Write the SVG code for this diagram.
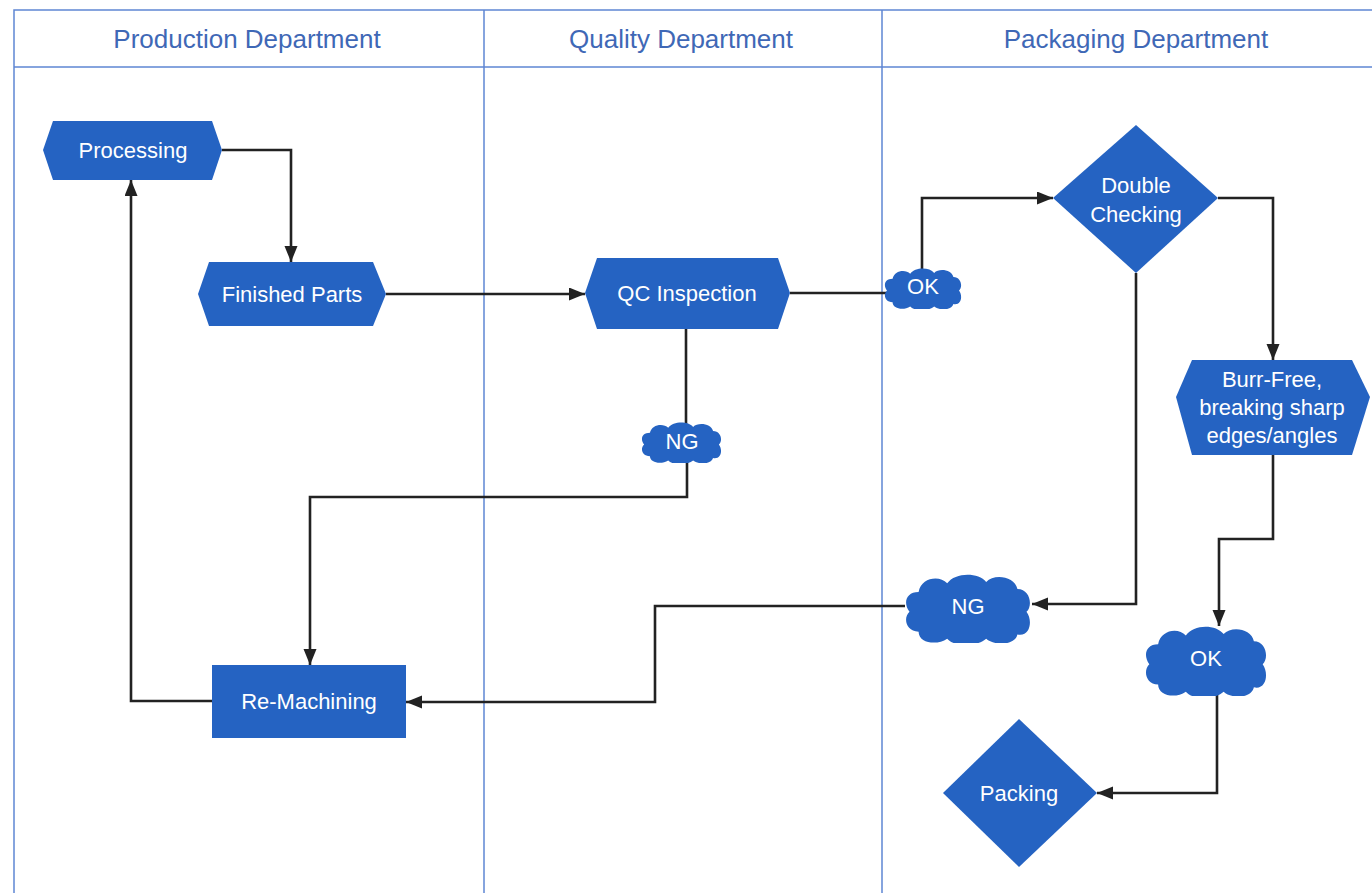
<svg xmlns="http://www.w3.org/2000/svg" width="1372" height="893" viewBox="0 0 1372 893">
<style>
.lane{fill:none;stroke:#5f86d4;stroke-width:1.5}
.hdr{font-family:"Liberation Sans",Arial,sans-serif;font-size:26px;fill:#3f68b6;text-anchor:middle}
.shape{fill:#2563c2}
.lbl{font-family:"Liberation Sans",Arial,sans-serif;font-size:22px;fill:#ffffff;text-anchor:middle}
.conn{fill:none;stroke:#222222;stroke-width:2.6}
</style>
<defs>
<marker id="arr" markerUnits="userSpaceOnUse" markerWidth="18" markerHeight="14" refX="16" refY="6.5" orient="auto">
<path d="M0,0 L16,6.5 L0,13 Z" fill="#222222"/>
</marker>
<symbol id="cloud" viewBox="0 0 100 50" preserveAspectRatio="none">
<path d="M12,14 C14,4 28,2 34,8 C40,0 58,0 64,7 C70,1 86,3 88,12 C98,12 100,24 95,28 C100,34 98,46 88,44 C86,52 70,52 64,47 C56,53 40,53 34,47 C26,52 12,50 12,42 C2,42 0,32 5,28 C0,22 2,14 12,14 Z"/>
</symbol>
</defs>
<rect width="1372" height="893" fill="#ffffff"/>
<g id="lanes">
<path class="lane" d="M14,900 V10 H1400 M14,67 H1400 M484,10 V900 M882,10 V900"/>
<text class="hdr" x="247" y="48">Production Department</text>
<text class="hdr" x="681" y="48">Quality Department</text>
<text class="hdr" x="1136" y="48">Packaging Department</text>
</g>
<g id="connectors">
<path class="conn" d="M222,150 H291 V262" marker-end="url(#arr)"/>
<path class="conn" d="M386,294 H585" marker-end="url(#arr)"/>
<path class="conn" d="M790,293 H886"/>
<path class="conn" d="M922,270 V198 H1053" marker-end="url(#arr)"/>
<path class="conn" d="M1218,198 H1273 V360" marker-end="url(#arr)"/>
<path class="conn" d="M1136,273 V604 H1032" marker-end="url(#arr)"/>
<path class="conn" d="M1273,455 V539 H1219 V626" marker-end="url(#arr)"/>
<path class="conn" d="M1217,693 V793 H1097" marker-end="url(#arr)"/>
<path class="conn" d="M686,329 V424"/>
<path class="conn" d="M687,460 V497 H310 V665" marker-end="url(#arr)"/>
<path class="conn" d="M905,606 H655 V702 H406" marker-end="url(#arr)"/>
<path class="conn" d="M212,701 H131 V180" marker-end="url(#arr)"/>
</g>
<g id="processing">
<polygon class="shape" points="43,150 53,121 212,121 222,150 212,180 53,180"/>
<text class="lbl" x="133" y="158">Processing</text>
</g>
<g id="finished-parts">
<polygon class="shape" points="198,294 209,262 373,262 386,294 373,326 209,326"/>
<text class="lbl" x="292" y="302">Finished Parts</text>
</g>
<g id="qc-inspection">
<polygon class="shape" points="585,293 597,258 778,258 790,293 778,329 597,329"/>
<text class="lbl" x="687" y="301">QC Inspection</text>
</g>
<g id="ok-1">
<use href="#cloud" class="shape" x="883" y="267" width="80" height="42"/>
<text class="lbl" x="923" y="294">OK</text>
</g>
<g id="ng-1">
<use href="#cloud" class="shape" x="640" y="421" width="83" height="42"/>
<text class="lbl" x="682" y="449">NG</text>
</g>
<g id="double-checking">
<polygon class="shape" points="1053,198 1136,125 1218,198 1136,273"/>
<text class="lbl" x="1136" y="193">Double</text>
<text class="lbl" x="1136" y="222">Checking</text>
</g>
<g id="burr-free">
<polygon class="shape" points="1176,397 1192,360 1352,360 1370,397 1352,455 1192,455"/>
<text class="lbl" x="1272" y="387">Burr-Free,</text>
<text class="lbl" x="1272" y="415">breaking sharp</text>
<text class="lbl" x="1272" y="443">edges/angles</text>
</g>
<g id="ng-2">
<use href="#cloud" class="shape" x="903" y="572" width="130" height="71"/>
<text class="lbl" x="968" y="614">NG</text>
</g>
<g id="ok-2">
<use href="#cloud" class="shape" x="1143" y="624" width="126" height="72"/>
<text class="lbl" x="1206" y="666">OK</text>
</g>
<g id="re-machining">
<rect class="shape" x="212" y="665" width="194" height="73"/>
<text class="lbl" x="309" y="709">Re-Machining</text>
</g>
<g id="packing">
<polygon class="shape" points="943,793 1019,719 1097,793 1019,867"/>
<text class="lbl" x="1019" y="801">Packing</text>
</g>
</svg>
